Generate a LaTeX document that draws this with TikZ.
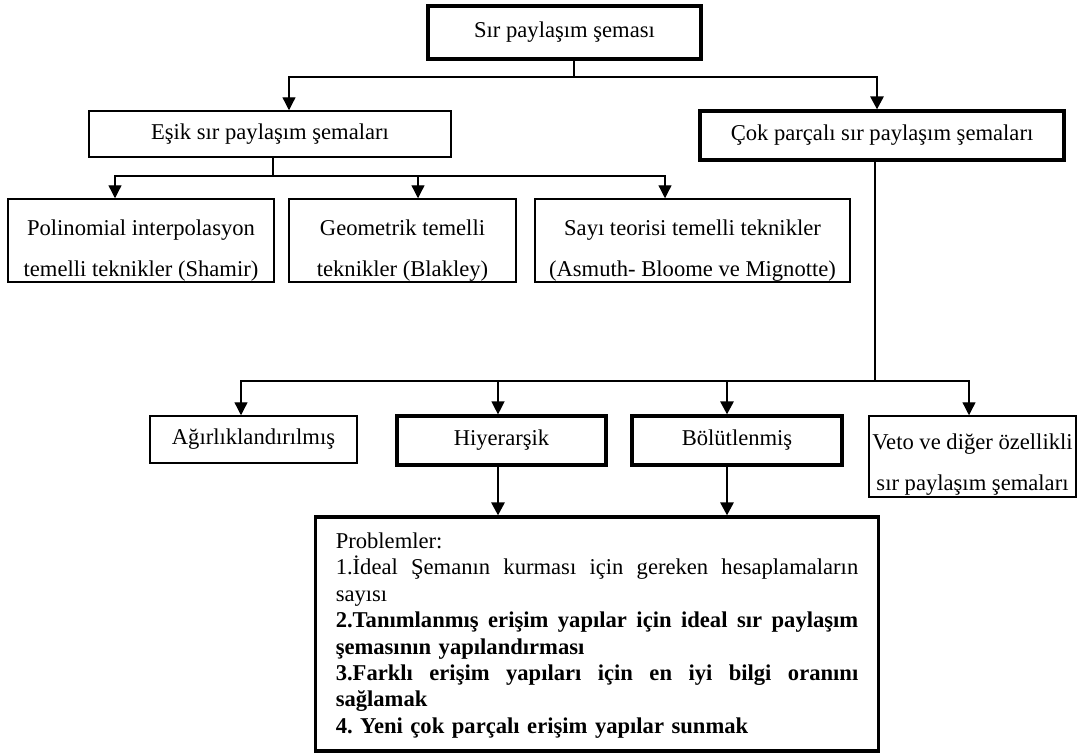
\documentclass[tikz,border=0pt]{standalone}
\usepackage{fontspec}
\setmainfont{Liberation Serif}
\usetikzlibrary{arrows.meta,calc}
\frenchspacing
\newcommand{\mainfs}{\fontsize{22.6}{26.4}\selectfont}
\newcommand{\twofs}{\fontsize{22.6}{41}\selectfont}
\newcommand{\jline}[1]{\leavevmode\hbox to 522.5pt{\spaceskip=0.25em plus 1fil\relax #1}}
\tikzset{
  box/.style={draw, line width=1.5pt, inner sep=0pt, align=center, font=\mainfs},
  tbox/.style={draw, line width=3.2pt, inner sep=0pt, align=center, font=\mainfs},
  txt/.style={inner sep=0pt, align=center, font=\twofs},
  thinc/.style={line width=1.3pt},
  thickc/.style={line width=2.8pt},
  arr/.style={-{Triangle[length=13pt,width=13pt]}},
}
\begin{document}
\begin{tikzpicture}[x=1pt,y=-1pt]
\fill[white] (0,0) rectangle (1078,753);
\useasboundingbox (0,0) rectangle (1078,753);

% level 0 and 1
\node[tbox, minimum width=273pt, minimum height=53pt] (top) at (564.5,32.5) {Sır paylaşım şeması};
\node[box, minimum width=362pt, minimum height=46pt] (esik) at (270,134) {Eşik sır paylaşım şemaları};
\node[tbox, minimum width=364pt, minimum height=49pt] (cok) at (882,135.5) {Çok parçalı sır paylaşım şemaları};

% level 2 (threshold)
\node[box, minimum width=266pt, minimum height=83pt] (poli) at (141,240.5) {};
\node[txt] (polit) at (141,250.5) {Polinomial interpolasyon\\temelli teknikler (Shamir)};
\node[box, minimum width=227pt, minimum height=83pt] (geo) at (402.5,240.5) {};
\node[txt] (geot) at (402.5,250.5) {Geometrik temelli\\teknikler (Blakley)};
\node[box, minimum width=315pt, minimum height=83pt] (sayi) at (692.5,240.5) {};
\node[txt] (sayit) at (692.5,250.5) {Sayı teorisi temelli teknikler\\(Asmuth- Bloome ve Mignotte)};

% level 2 (multipartite)
\node[box, minimum width=207pt, minimum height=47pt] (agir) at (253.5,439.5) {Ağırlıklandırılmış};
\node[tbox, minimum width=209pt, minimum height=49pt] (hiy) at (501.5,440.5) {Hiyerarşik};
\node[tbox, minimum width=210pt, minimum height=49pt] (bol) at (737,440.5) {Bölütlenmiş};
\node[box, minimum width=207pt, minimum height=81pt] (veto) at (972.5,456.5) {};
\node[txt] (vetot) at (972.5,464.5) {Veto ve diğer özellikli\\sır paylaşım şemaları};

% problems
\node[tbox, minimum width=562.5pt, minimum height=234pt] (prob) at (597,634) {};
\node[inner sep=0pt, text width=522.5pt, align=left, font=\mainfs] (probt) at (597,635.5) {%
Problemler:\\
\jline{1.İdeal Şemanın kurması için gereken hesaplamaların}\\
sayısı\\
\jline{\bfseries 2.Tanımlanmış erişim yapılar için ideal sır paylaşım}\\
\textbf{şemasının yapılandırması}\\
\jline{\bfseries 3.Farklı erişim yapıları için en iyi bilgi oranını}\\
\textbf{sağlamak}\\
\textbf{4. Yeni çok parçalı erişim yapılar sunmak}};

% junctions
\coordinate (j1) at (574,77);
\coordinate (j2) at (273,176);
\coordinate (j3) at (875,381);

% top connectors
\draw[thickc] (top.south -| j1) -- (j1);
\draw[thinc,arr] (j1) -| ([xshift=19pt]esik.north);
\draw[thickc,arr] (j1) -| ([xshift=-5pt]cok.north);

% threshold connectors
\draw[thinc] (esik.south -| j2) -- (j2);
\draw[thinc,arr] (j2) -| ([xshift=-26pt]poli.north);
\draw[thinc,arr] (j2) -| ([xshift=15.5pt]geo.north);
\draw[thinc,arr] (j2) -| ([xshift=-27.5pt]sayi.north);

% multipartite connectors
\draw[thickc] (cok.south -| j3) -- (j3);
\draw[thinc,arr] (j3) -| ([xshift=-12.5pt]agir.north);
\draw[thinc,arr] (j3) -| ([xshift=-3.5pt]hiy.north);
\draw[thinc,arr] (j3) -| ([xshift=-3.5pt]veto.north);
\draw[thickc,arr] (j3) -| ([xshift=-10pt]bol.north);

% to problems
\draw[thickc,arr] ([xshift=-3.5pt]hiy.south) -- ([xshift=-3.5pt]hiy.south |- prob.north);
\draw[thickc,arr] ([xshift=-10pt]bol.south) -- ([xshift=-10pt]bol.south |- prob.north);
\end{tikzpicture}
\end{document}
